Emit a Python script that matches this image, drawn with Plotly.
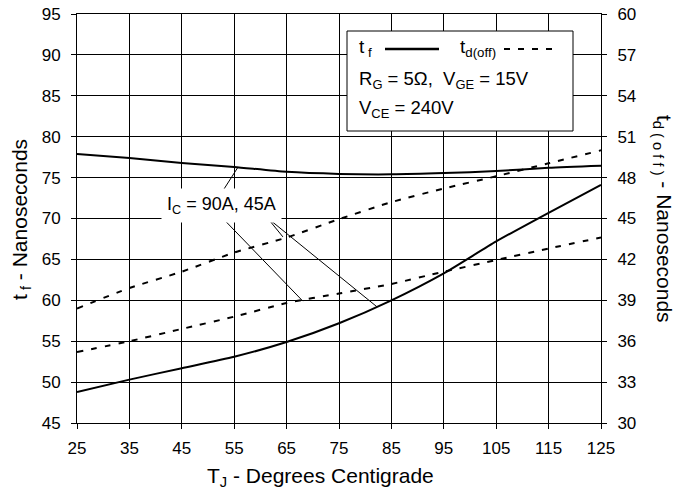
import plotly.graph_objects as go

# ---- data ----
temps = [25, 35, 45, 55, 65, 75, 85, 95, 105, 115, 125]
tf_90A = [77.9, 77.4, 76.8, 76.3, 75.7, 75.45, 75.4, 75.55, 75.8, 76.2, 76.45]
tf_45A = [48.8, 50.3, 51.7, 53.1, 54.9, 57.2, 60.0, 63.3, 67.2, 70.7, 74.1]
tdoff_90A = [35.2, 36.0, 36.9, 37.8, 38.8, 39.5, 40.2, 41.1, 41.95, 42.8, 43.6]
tdoff_45A = [38.4, 39.9, 41.1, 42.5, 43.6, 44.95, 46.2, 47.2, 48.1, 49.05, 50.0]

x_ticks = [25, 35, 45, 55, 65, 75, 85, 95, 105, 115, 125]
left_ticks = [45, 50, 55, 60, 65, 70, 75, 80, 85, 90, 95]
right_ticks = [30, 33, 36, 39, 42, 45, 48, 51, 54, 57, 60]

FONT = "Liberation Sans, Arial, sans-serif"
BLACK = "#000000"

# plot area in window pixels (page has an 8px body margin)
PL, PR, PT, PB = 77, 601, 14, 423
OFF = 8
W, H = 689 - OFF, 491 - OFF
PW, PH = PR - PL, PB - PT


def px(xp):
    return (xp - PL) / PW


def py(yp):
    return (PB - yp) / PH


fig = go.Figure()
for ys in (tf_90A, tf_45A):
    fig.add_trace(go.Scatter(x=temps, y=ys, mode="lines", yaxis="y",
                             line=dict(color=BLACK, width=2, shape="spline", smoothing=0.6),
                             showlegend=False, hoverinfo="skip"))
for ys in (tdoff_90A, tdoff_45A):
    fig.add_trace(go.Scatter(x=temps, y=ys, mode="lines", yaxis="y2",
                             line=dict(color=BLACK, width=2, dash="6px,8px", shape="spline", smoothing=0.6),
                             showlegend=False, hoverinfo="skip"))

shapes = []
# legend box
shapes.append(dict(type="rect", xref="paper", yref="paper", x0=px(347), x1=px(573), y0=py(131), y1=py(31),
                   line=dict(color=BLACK, width=1), fillcolor="white", layer="above"))
# legend sample lines
shapes.append(dict(type="line", xref="paper", yref="paper", x0=px(385), x1=px(439),
                   y0=py(49), y1=py(49), line=dict(color=BLACK, width=2.5), layer="above"))
shapes.append(dict(type="line", xref="paper", yref="paper", x0=px(504), x1=px(560),
                   y0=py(49), y1=py(49), line=dict(color=BLACK, width=2, dash="6px,8px"), layer="above"))
# leader lines (data coords of left axis)
for (x0, y0, x1, y1) in [(53.05, 73.6, 55.7, 76.25),
                         (52.7, 70.1, 68.1, 59.9),
                         (61.3, 70.1, 64.3, 67.75),
                         (61.3, 70.1, 82.25, 59.2)]:
    shapes.append(dict(type="line", xref="x", yref="y", x0=x0, y0=y0, x1=x1, y1=y1,
                       line=dict(color=BLACK, width=1), layer="above"))

annotations = [
    dict(text="I<sub>C</sub> = 90A, 45A", x=52.5, y=71.65, xref="x", yref="y", showarrow=False,
         font=dict(family=FONT, size=18, color=BLACK), bgcolor="white", borderpad=5),
    dict(text="t<sub> f</sub>", x=px(357), y=py(48), xref="paper", yref="paper",
         xanchor="left", yanchor="middle", showarrow=False, font=dict(family=FONT, size=19, color=BLACK)),
    dict(text="t<sub>d(off)</sub>", x=px(458), y=py(48), xref="paper", yref="paper",
         xanchor="left", yanchor="middle", showarrow=False, font=dict(family=FONT, size=19, color=BLACK)),
    dict(text="R<sub>G</sub> = 5\u03a9,  V<sub>GE</sub> = 15V", x=px(357), y=py(80),
         xref="paper", yref="paper", xanchor="left", yanchor="middle", showarrow=False,
         font=dict(family=FONT, size=18.5, color=BLACK)),
    dict(text="V<sub>CE</sub> = 240V", x=px(357), y=py(109),
         xref="paper", yref="paper", xanchor="left", yanchor="middle", showarrow=False,
         font=dict(family=FONT, size=18.5, color=BLACK)),
    dict(text="T<sub>J</sub> - Degrees Centigrade", x=px(320), y=py(477),
         xref="paper", yref="paper", xanchor="center", yanchor="middle", showarrow=False,
         font=dict(family=FONT, size=21, color=BLACK)),
    dict(text="t<sub> f</sub> - Nanoseconds", x=px(21), y=py(220), textangle=-90,
         xref="paper", yref="paper", xanchor="center", yanchor="middle", showarrow=False,
         font=dict(family=FONT, size=21, color=BLACK)),
    dict(text="t<sub>d ( o f f )</sub> - Nanoseconds", x=px(663), y=py(219), textangle=90,
         xref="paper", yref="paper", xanchor="center", yanchor="middle", showarrow=False,
         font=dict(family=FONT, size=21, color=BLACK)),
]

fig.update_layout(
    width=W, height=H,
    margin=dict(l=PL - OFF, r=W - (PR - OFF), t=PT - OFF, b=H - (PB - OFF), pad=0, autoexpand=False),
    paper_bgcolor="white", plot_bgcolor="white",
    font=dict(family=FONT, size=17, color=BLACK),
    showlegend=False,
    xaxis=dict(range=[25, 125], tickvals=x_ticks, ticktext=[str(v) for v in x_ticks],
               showgrid=True, gridcolor=BLACK, gridwidth=1, zeroline=False, automargin=False,
               showline=True, linecolor=BLACK, linewidth=1, mirror=True,
               ticks="outside", ticklen=5, tickcolor=BLACK, ticklabelstandoff=5,
               ticklabeloverflow="allow",
               tickfont=dict(family=FONT, size=17, color=BLACK)),
    yaxis=dict(range=[45, 95], tickvals=left_ticks, ticktext=[str(v) for v in left_ticks],
               showgrid=True, gridcolor=BLACK, gridwidth=1, zeroline=False, automargin=False,
               showline=True, linecolor=BLACK, linewidth=1, mirror=True,
               ticks="outside", ticklen=5, tickcolor=BLACK, ticklabelstandoff=7,
               ticklabeloverflow="allow",
               tickfont=dict(family=FONT, size=17, color=BLACK)),
    yaxis2=dict(range=[30, 60], tickvals=right_ticks, ticktext=[str(v) for v in right_ticks],
                overlaying="y", side="right", showgrid=False, zeroline=False, automargin=False,
                showline=True, linecolor=BLACK, linewidth=1,
                ticks="outside", ticklen=5, tickcolor=BLACK, ticklabelstandoff=7,
                ticklabeloverflow="allow",
                tickfont=dict(family=FONT, size=17, color=BLACK)),
    shapes=shapes,
    annotations=annotations,
)

fig.write_html("out.html")
